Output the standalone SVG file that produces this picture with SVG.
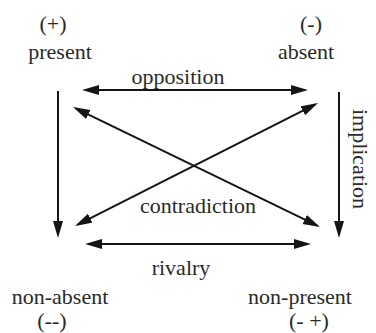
<svg xmlns="http://www.w3.org/2000/svg" width="376" height="333" viewBox="0 0 376 333">
<style>
text{font-size:22px;fill:#2a2a2a;text-anchor:middle}
.c{stroke:#151515;stroke-width:2;fill:none}
</style>
<defs>
<marker id="ah" markerUnits="userSpaceOnUse" markerWidth="18" markerHeight="11" refX="14" refY="5" orient="auto-start-reverse">
<path d="M0,0 L17,5 L0,10 Z" fill="#151515"/>
</marker>
</defs>
<rect width="376" height="333" fill="#fff"/>
<g font-family="Liberation Serif, Times New Roman, serif">
<g id="present"><text x="53" y="31">(+)</text><text x="60" y="59">present</text></g>
<g id="absent"><text x="311" y="31">(-)</text><text x="306" y="59">absent</text></g>
<g id="non-absent"><text x="60" y="304">non-absent</text><text x="52" y="328">(--)</text></g>
<g id="non-present"><text x="300" y="304">non-present</text><text x="309" y="328">(- +)</text></g>
<g id="connectors">
<line class="c" x1="85" y1="90" x2="305" y2="90" marker-start="url(#ah)" marker-end="url(#ah)"/>
<line class="c" x1="88" y1="244" x2="308" y2="244" marker-start="url(#ah)" marker-end="url(#ah)"/>
<line class="c" x1="58" y1="91" x2="58" y2="235" marker-end="url(#ah)"/>
<line class="c" x1="339" y1="92" x2="339" y2="235" marker-end="url(#ah)"/>
<line class="c" x1="75.7" y1="108.3" x2="317.3" y2="225.7" marker-start="url(#ah)" marker-end="url(#ah)"/>
<line class="c" x1="77.7" y1="224.6" x2="315.3" y2="104.4" marker-start="url(#ah)" marker-end="url(#ah)"/>
<text x="178" y="84">opposition</text>
<text x="198" y="213">contradiction</text>
<text x="181" y="275">rivalry</text>
<text transform="translate(353,159) rotate(90)">implication</text>
</g>
</g>
</svg>
